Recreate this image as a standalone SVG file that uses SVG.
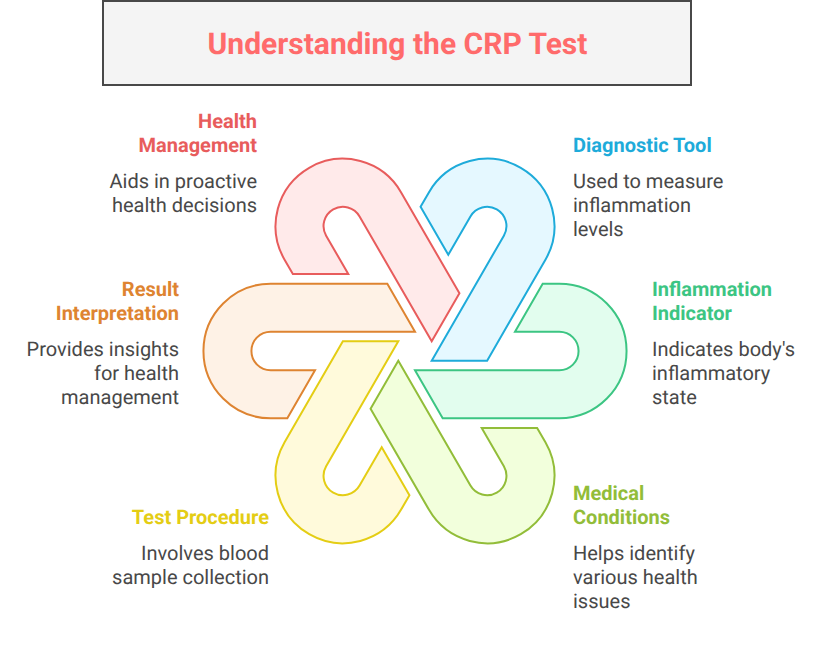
<svg xmlns="http://www.w3.org/2000/svg" width="831" height="662" viewBox="0 0 831 662">
<style>
text{font-family:Roboto,"Liberation Sans",sans-serif;font-size:20px;text-rendering:geometricPrecision}
.h{font-weight:700}
.b{fill:#484848}
.e{text-anchor:end}
.s{stroke-width:2;stroke-linejoin:miter}
</style>
<defs>
<path id="band" d="M542.7 283.7H559.3A67.3 67.3 0 0 1 559.3 418.3H442.7L415 370.3H559.3A19.3 19.3 0 0 0 559.3 331.7H515Z"/>
</defs>
<rect width="831" height="662" fill="#fff"/>
<g id="title">
<rect x="103" y="1" width="588" height="84" fill="#f4f4f4" stroke="#484848" stroke-width="2"/>
<text x="397.5" y="54" text-anchor="middle" class="h" style="font-size:30px" fill="#ff6b6b">Understanding the CRP Test</text>
</g>
<g id="health-management">
<use href="#band" class="s" fill="#ffeaea" stroke="#e85c5c" transform="rotate(-120 415 351)"/>
<text x="257" y="128" class="h e" fill="#e85c5c">Health</text>
<text x="257" y="152" class="h e" fill="#e85c5c">Management</text>
<text x="257" y="188" class="b e">Aids in proactive</text>
<text x="257" y="212" class="b e">health decisions</text>
</g>
<g id="diagnostic-tool">
<use href="#band" class="s" fill="#e5f8ff" stroke="#1eabda" transform="rotate(-60 415 351)"/>
<text x="573" y="152" class="h" fill="#1eabda">Diagnostic Tool</text>
<text x="573" y="188" class="b">Used to measure</text>
<text x="573" y="212" class="b">inflammation</text>
<text x="573" y="236" class="b">levels</text>
</g>
<g id="result-interpretation">
<use href="#band" class="s" fill="#fef2e6" stroke="#de8431" transform="rotate(180 415 351)"/>
<text x="179" y="296" class="h e" fill="#de8431">Result</text>
<text x="179" y="320" class="h e" fill="#de8431">Interpretation</text>
<text x="179" y="356" class="b e">Provides insights</text>
<text x="179" y="380" class="b e">for health</text>
<text x="179" y="404" class="b e">management</text>
</g>
<g id="inflammation-indicator">
<use href="#band" class="s" fill="#e2fdee" stroke="#3cc583"/>
<text x="652" y="296" class="h" fill="#3cc583">Inflammation</text>
<text x="652" y="320" class="h" fill="#3cc583">Indicator</text>
<text x="652" y="356" class="b">Indicates body's</text>
<text x="652" y="380" class="b">inflammatory</text>
<text x="652" y="404" class="b">state</text>
</g>
<g id="test-procedure">
<use href="#band" class="s" fill="#fffadb" stroke="#e4cd14" transform="rotate(120 415 351)"/>
<text x="269" y="524" class="h e" fill="#e4cd14">Test Procedure</text>
<text x="269" y="560" class="b e">Involves blood</text>
<text x="269" y="584" class="b e">sample collection</text>
</g>
<g id="medical-conditions">
<use href="#band" class="s" fill="#f2ffdc" stroke="#92bd39" transform="rotate(60 415 351)"/>
<text x="573" y="500" class="h" fill="#92bd39">Medical</text>
<text x="573" y="524" class="h" fill="#92bd39">Conditions</text>
<text x="573" y="560" class="b">Helps identify</text>
<text x="573" y="584" class="b">various health</text>
<text x="573" y="608" class="b">issues</text>
</g>
</svg>
